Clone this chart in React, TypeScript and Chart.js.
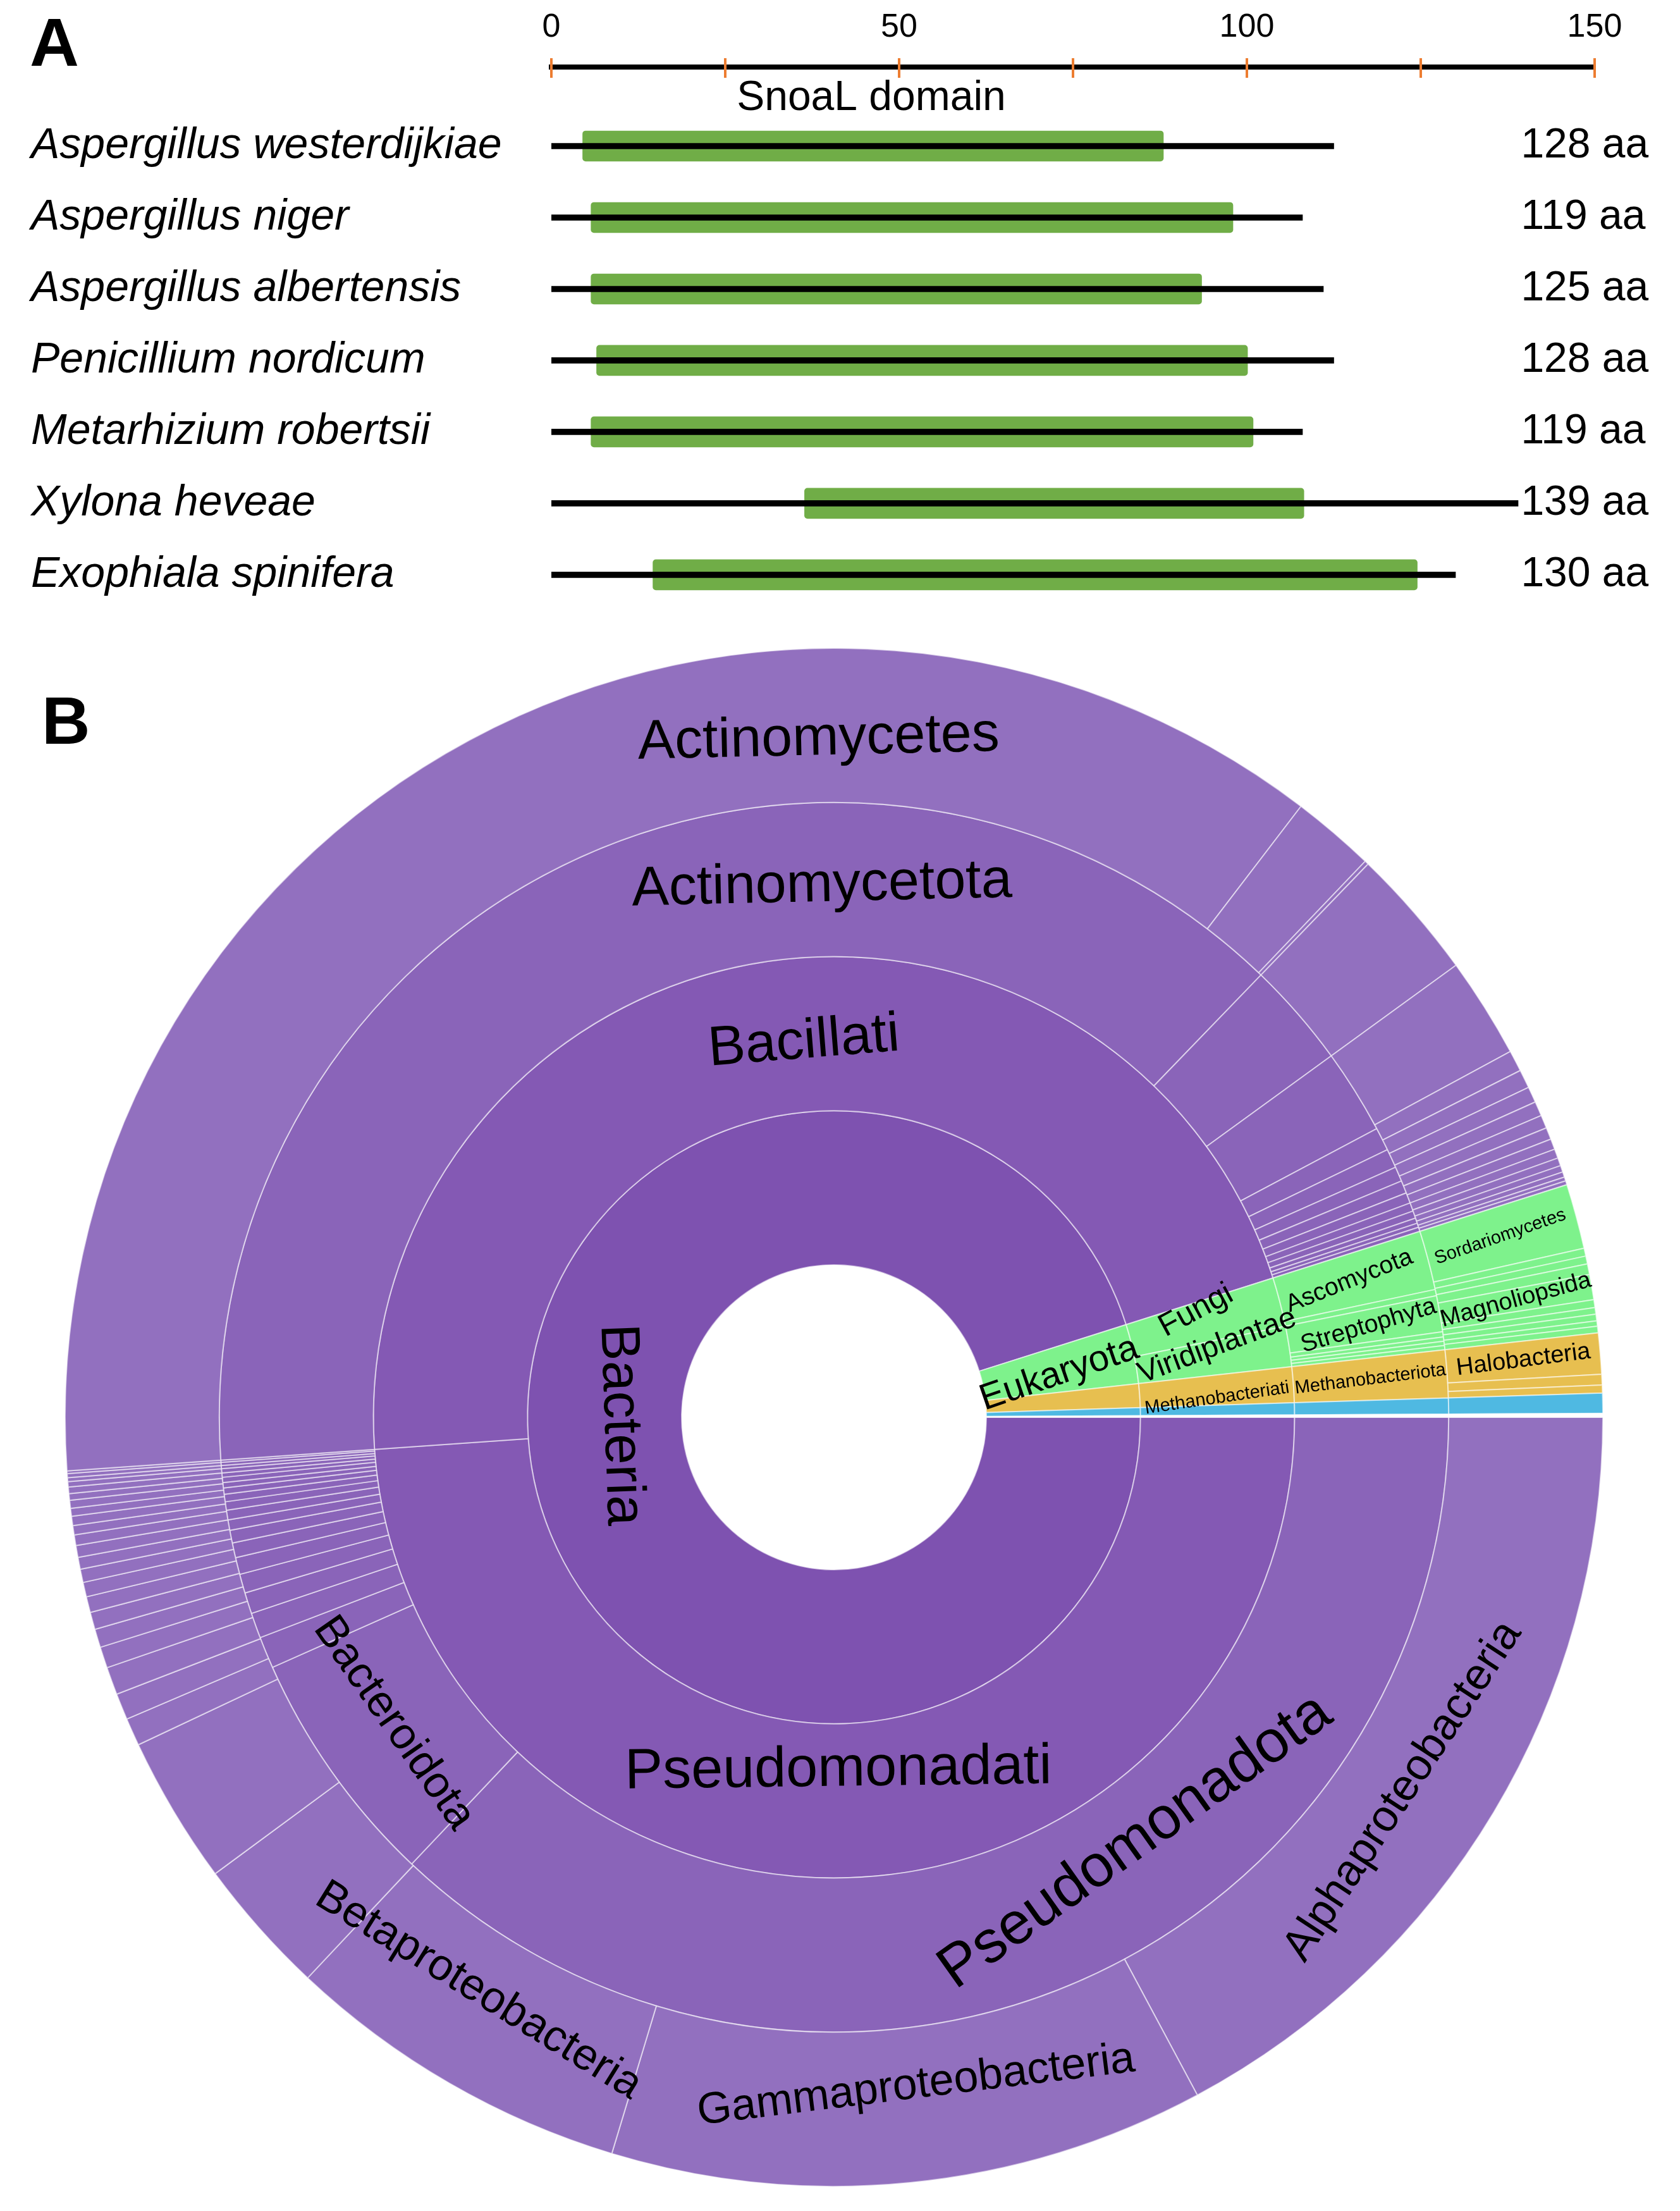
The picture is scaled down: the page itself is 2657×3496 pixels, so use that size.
import React, { useEffect, useRef } from 'react';
import { Chart, registerables } from 'chart.js';

Chart.register(...registerables);

const FONT = '"Liberation Sans", Arial, sans-serif';

// ---------------- Panel A data ----------------
const species = [
  'Aspergillus westerdijkiae',
  'Aspergillus niger',
  'Aspergillus albertensis',
  'Penicillium nordicum',
  'Metarhizium robertsii',
  'Xylona heveae',
  'Exophiala spinifera',
];
const proteinLengthLabels = ['128 aa', '119 aa', '125 aa', '128 aa', '119 aa', '139 aa', '130 aa'];
const drawnLineStart = [0, 0, 0, 0, 0, 0, 0];
const drawnLineEnd = [112.5, 108, 111, 112.5, 108, 139, 130];
const domainStart = [4.5, 5.7, 5.7, 6.5, 5.7, 36.4, 14.6];
const domainEnd = [88, 98, 93.5, 100.1, 100.9, 108.2, 124.5];
const axisTicks = [0, 25, 50, 75, 100, 125, 150];
const axisTickLabels = ['0', '', '50', '', '100', '', '150'];
const domainName = 'SnoaL domain';

// ---------------- Panel B data (angular share, degrees, clockwise from 3 o'clock) ----------------
// groups: B = Bacteria, E = Eukaryota, A = Archaea, V = other (blue), G = gap
const ring1Values = [342.4, 11.3, 4.5, 1.5, 0.3];
const ring1Groups = 'BEAVG';
const ring1Labels: [number, string][] = [[0, 'Bacteria'], [1, 'Eukaryota']];

const ring2Values = [176, 166.4, 6.2, 5.1, 4.5, 1.5, 0.3];
const ring2Groups = 'BBEEAVG';
const ring2Labels: [number, string][] = [
  [0, 'Pseudomonadati'], [1, 'Bacillati'], [2, 'Fungi'], [3, 'Viridiplantae'], [4, 'Methanobacteriati'],
];

const ring3Values = [
  133.4, 22.6,
  3.0, 2.4, 2.0, 1.8, 1.6, 1.4, 1.2, 1.0, 0.9, 0.8, 0.7, 0.6, 0.5, 0.5, 0.4, 0.4, 0.3, 0.3, 0.2,
  138, 10, 8,
  2.2, 1.8, 1.4, 1.2, 1.0, 0.8, 0.7, 0.5, 0.4, 0.4,
  5.6, 0.6, 3.4, 0.5, 0.4, 0.4, 0.4,
  4.5, 1.5, 0.3,
];
const ring3Groups = 'B'.repeat(34) + 'E'.repeat(7) + 'AVG';
const ring3Labels: [number, string][] = [
  [0, 'Pseudomonadota'], [1, 'Bacteroidota'], [21, 'Actinomycetota'],
  [34, 'Ascomycota'], [36, 'Streptophyta'], [41, 'Methanobacteriota'],
];

const ring4Values = [
  61.8, 45, 26.4,
  10.4, 11.2, 2.1, 2.0, 2.1,
  1.6, 1.4, 1.3, 1.2, 1.1, 1.0, 0.9, 0.9, 0.8, 0.7, 0.7, 0.6, 0.6, 0.5, 0.5, 0.4, 0.3, 0.3, 0.2,
  131.4, 6.3, 0.3, 10, 7.6,
  1.6, 1.4, 1.2, 1.1, 1.0, 0.9, 0.8, 0.7, 0.6, 0.5, 0.4, 0.3, 0.3,
  4.9, 0.6, 0.6, 0.8, 1.9, 0.6, 0.5, 0.5, 0.4, 0.5,
  3.1, 0.8, 0.6,
  1.5, 0.3,
];
const ring4Groups = 'B'.repeat(45) + 'E'.repeat(10) + 'AAA' + 'VG';
const ring4Labels: [number, string][] = [
  [0, 'Alphaproteobacteria'], [1, 'Gammaproteobacteria'], [2, 'Betaproteobacteria'],
  [27, 'Actinomycetes'], [45, 'Sordariomycetes'], [49, 'Magnoliopsida'], [55, 'Halobacteria'],
];

// ---------------- Styles ----------------
const ringPurples = ['#7E52B0', '#8459B4', '#8A64B9', '#9270BF'];
const groupColors: Record<string, string> = {
  E: '#7EF28C',
  A: '#E7BF50',
  V: '#4FB9E2',
  G: '#FFFFFF',
};

type LabelStyle = { size: number; mode: 'tan' | 'rad'; dAng?: number; rFrac?: number; rot?: number };
const labelStyle: Record<string, LabelStyle> = {
  Bacteria: { size: 87, mode: 'tan', dAng: -6.8, rFrac: 0.4 },
  Eukaryota: { size: 58, mode: 'rad', dAng: -1.1, rFrac: 0.5, rot: 8 },
  Pseudomonadati: { size: 90, mode: 'tan', dAng: -1.3, rFrac: 0.3 },
  Bacillati: { size: 88, mode: 'tan', dAng: -6.2, rFrac: 0.45 },
  Fungi: { size: 50, mode: 'rad', dAng: 1.9, rFrac: 0.46, rot: 12 },
  Viridiplantae: { size: 48, mode: 'rad', dAng: 1.65, rFrac: 0.54, rot: 10 },
  Methanobacteriati: { size: 29, mode: 'rad', dAng: -1.2, rFrac: 0.5, rot: 5.5 },
  Pseudomonadota: { size: 94, mode: 'tan', dAng: 12.1, rFrac: 0.39 },
  Bacteroidota: { size: 70, mode: 'tan', dAng: -0.5, rFrac: 0.49 },
  Actinomycetota: { size: 88, mode: 'tan', dAng: -23.7, rFrac: 0.46 },
  Ascomycota: { size: 39, mode: 'rad', rFrac: 0.47, rot: 7 },
  Streptophyta: { size: 39, mode: 'rad', rFrac: 0.53, rot: 7 },
  Methanobacteriota: { size: 29, mode: 'rad', rFrac: 0.5, rot: 3 },
  Alphaproteobacteria: { size: 70, mode: 'tan', dAng: -2.4, rFrac: 0.43 },
  Gammaproteobacteria: { size: 70, mode: 'tan', dAng: 1.3, rFrac: 0.38 },
  Betaproteobacteria: { size: 70, mode: 'tan', dAng: -1.8, rFrac: 0.39 },
  Actinomycetes: { size: 88, mode: 'tan', dAng: -27, rFrac: 0.41 },
  Sordariomycetes: { size: 29, mode: 'rad', rFrac: 0.49, rot: 4 },
  Magnoliopsida: { size: 38, mode: 'rad', rFrac: 0.5, rot: 5.5 },
  Halobacteria: { size: 38, mode: 'rad', rFrac: 0.5, rot: 2.5 },
};

// outermost ring first (Chart.js draws dataset 0 as the outer ring)
const ringDefs = [
  { values: ring4Values, groups: ring4Groups, labels: ring4Labels, purple: ringPurples[3] },
  { values: ring3Values, groups: ring3Groups, labels: ring3Labels, purple: ringPurples[2] },
  { values: ring2Values, groups: ring2Groups, labels: ring2Labels, purple: ringPurples[1] },
  { values: ring1Values, groups: ring1Groups, labels: ring1Labels, purple: ringPurples[0] },
];

const Y_MIN = -1.106;
const Y_MAX = 6.806;

export default function App() {
  const aRef = useRef<HTMLCanvasElement>(null);
  const bRef = useRef<HTMLCanvasElement>(null);

  useEffect(() => {
    const panelADecor = {
      id: 'panelADecor',
      afterDraw(chart: any) {
        const xs = chart.scales.x;
        const ys = chart.scales.y;
        const ctx = chart.ctx;
        const yb = xs.bottom;
        ctx.save();
        // orange tick marks crossing the axis line
        ctx.strokeStyle = '#ED7D31';
        ctx.lineWidth = 4;
        axisTicks.forEach((v) => {
          const px = Math.round(xs.getPixelForValue(v));
          ctx.beginPath();
          ctx.moveTo(px, yb - 14);
          ctx.lineTo(px, yb + 17);
          ctx.stroke();
        });
        ctx.fillStyle = '#000';
        ctx.textBaseline = 'middle';
        // domain name
        ctx.font = `66px ${FONT}`;
        ctx.textAlign = 'center';
        ctx.fillText(domainName, xs.getPixelForValue(46), yb + 50);
        // species names (left) and protein lengths (right)
        species.forEach((name, i) => {
          const py = ys.getPixelForValue(i);
          ctx.font = `italic 68px ${FONT}`;
          ctx.textAlign = 'left';
          ctx.fillText(name, 49, py);
          ctx.font = `66px ${FONT}`;
          ctx.fillText(proteinLengthLabels[i], xs.getPixelForValue(139.4), py);
        });
        ctx.restore();
      },
    };

    const chartA = new Chart(aRef.current as HTMLCanvasElement, {
      type: 'bar',
      data: {
        datasets: [
          {
            data: species.map((_, i) => ({ x: [drawnLineStart[i], drawnLineEnd[i]], y: i })) as any,
            backgroundColor: '#000000',
            barThickness: 9,
            grouped: false,
            borderSkipped: false,
          },
          {
            data: species.map((_, i) => ({ x: [domainStart[i], domainEnd[i]], y: i })) as any,
            backgroundColor: '#70AD47',
            barThickness: 48,
            grouped: false,
            borderRadius: 5,
            borderSkipped: false,
          },
        ],
      },
      options: {
        indexAxis: 'y',
        animation: false,
        responsive: false,
        events: [],
        layout: { padding: { left: 872, right: 135, top: 0, bottom: 0 } },
        plugins: { legend: { display: false }, tooltip: { enabled: false } },
        scales: {
          x: {
            type: 'linear',
            position: 'top',
            min: 0,
            max: 150,
            afterBuildTicks: (s: any) => {
              s.ticks = axisTicks.map((v) => ({ value: v }));
            },
            afterFit: (s: any) => {
              s.height = 106;
            },
            ticks: {
              callback: (_v: any, i: number) => axisTickLabels[i],
              font: { family: FONT, size: 52 },
              color: '#000',
              padding: 23,
              maxRotation: 0,
              autoSkip: false,
            },
            grid: { display: false },
            border: { display: true, color: '#000', width: 8 },
          },
          y: {
            type: 'linear',
            display: false,
            offset: false,
            reverse: true,
            min: Y_MIN,
            max: Y_MAX,
          },
        },
      } as any,
      plugins: [panelADecor],
    });

    const sunburstLabels = {
      id: 'sunburstLabels',
      afterDatasetsDraw(chart: any) {
        const ctx = chart.ctx;
        ringDefs.forEach((ring, di) => {
          const meta = chart.getDatasetMeta(di);
          ring.labels.forEach(([idx, text]) => {
            const st = labelStyle[text];
            const el = meta.data[idx];
            if (!st || !el) return;
            const p = el.getProps(['x', 'y', 'startAngle', 'endAngle', 'innerRadius', 'outerRadius'], true);
            const th = (p.startAngle + p.endAngle) / 2 - ((st.dAng || 0) * Math.PI) / 180;
            const r = p.innerRadius + (p.outerRadius - p.innerRadius) * (st.rFrac ?? 0.5);
            const x = p.x + r * Math.cos(th);
            const y = p.y + r * Math.sin(th);
            const t = ((th % (2 * Math.PI)) + 2 * Math.PI) % (2 * Math.PI);
            let rot: number;
            if (st.mode === 'tan') rot = Math.sin(t) > 0 ? t - Math.PI / 2 : t + Math.PI / 2;
            else rot = Math.cos(t) >= 0 ? t : t + Math.PI;
            rot -= ((st.rot || 0) * Math.PI) / 180;
            ctx.save();
            ctx.translate(x, y);
            ctx.rotate(rot);
            ctx.font = `${st.size}px ${FONT}`;
            ctx.fillStyle = '#000';
            ctx.textAlign = 'center';
            ctx.textBaseline = 'middle';
            ctx.fillText(text, 0, 0);
            ctx.restore();
          });
        });
      },
    };

    const chartB = new Chart(bRef.current as HTMLCanvasElement, {
      type: 'doughnut',
      data: {
        labels: [],
        datasets: ringDefs.map((ring) => ({
          data: ring.values,
          backgroundColor: ring.groups.split('').map((g) => (g === 'B' ? ring.purple : groupColors[g])),
          borderColor: 'rgba(255,255,255,0.55)',
          borderWidth: 2,
          hoverOffset: 0,
        })),
      },
      options: {
        animation: false,
        responsive: false,
        events: [],
        rotation: 90,
        cutout: 241,
        layout: { padding: 0 },
        plugins: { legend: { display: false }, tooltip: { enabled: false } },
      } as any,
      plugins: [sunburstLabels],
    });

    return () => {
      chartA.destroy();
      chartB.destroy();
    };
  }, []);

  return (
    <div
      style={{
        position: 'absolute',
        left: 0,
        top: 0,
        width: 2657,
        height: 3496,
        background: '#ffffff',
        overflow: 'hidden',
      }}
    >
      <canvas
        ref={aRef}
        width={2657}
        height={1000}
        style={{ position: 'absolute', left: 0, top: 0, width: 2657, height: 1000 }}
      />
      <canvas
        ref={bRef}
        width={2434}
        height={2434}
        style={{ position: 'absolute', left: 102, top: 1024, width: 2434, height: 2434 }}
      />
      <div
        style={{
          position: 'absolute',
          left: 47,
          top: 13,
          font: `bold 108px ${FONT}`,
          lineHeight: 1,
          color: '#000',
        }}
      >
        A
      </div>
      <div
        style={{
          position: 'absolute',
          left: 66,
          top: 1086,
          font: `bold 106px ${FONT}`,
          lineHeight: 1,
          color: '#000',
        }}
      >
        B
      </div>
    </div>
  );
}
